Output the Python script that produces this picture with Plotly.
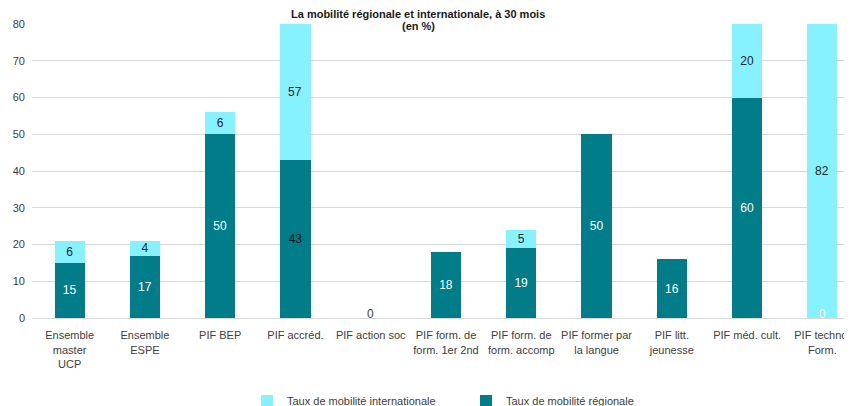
import plotly.graph_objects as go

categories = ["Ensemble<br>master<br>UCP", "Ensemble<br>ESPE", "PIF BEP", "PIF accréd.", "PIF action soc",
              "PIF form. de<br>form. 1er 2nd", "PIF form. de<br>form. accomp", "PIF former par<br>la langue",
              "PIF litt.<br>jeunesse", "PIF méd. cult.", "PIF techno.<br>Form."]
regional = [15, 17, 50, 43, 0, 18, 19, 50, 16, 60, 0]
international = [6, 4, 6, 57, None, None, 5, None, None, 20, 82]
regional_label_colors = ["white", "white", "white", "#1a1a1a", "#404040", "white", "white", "white", "white", "white", "white"]
yticks = [0, 10, 20, 30, 40, 50, 60, 70, 80]
title_lines = ["La mobilité régionale et internationale, à 30 mois", "(en %)"]
YMAX = 80

FONT = "Liberation Sans, Arial, sans-serif"
x = list(range(len(categories)))
# the page body adds an 8px offset; figure coordinates below compensate for it
OFF = 8
PLOT_TOP, PLOT_H, PLOT_L = 24 - OFF, 294, 32 - OFF
W, H = 852, 406

fig = go.Figure()
fig.add_trace(go.Bar(
    x=x, y=regional, name="Taux de mobilité régionale",
    marker=dict(color="#007D89", line=dict(width=0)),
    width=0.4, text=[("" if v == 0 else str(v)) for v in regional], textposition="inside",
    insidetextanchor="middle", constraintext="none", textangle=0,
    textfont=dict(family=FONT, size=12, color=regional_label_colors),
))
fig.add_trace(go.Bar(
    x=x, y=international, name="Taux de mobilité internationale",
    marker=dict(color="#86F1FF", line=dict(width=0)),
    width=0.4,
    text=[("" if (v is None or regional[i] + v > YMAX) else str(v)) for i, v in enumerate(international)],
    textposition="inside", insidetextanchor="middle", constraintext="none", textangle=0,
    textfont=dict(family=FONT, size=12, color="#262626"),
))

annotations = []
for i, v in enumerate(regional):
    if v == 0:
        annotations.append(dict(x=i, y=v, xref="x", yref="y", text=str(v), showarrow=False,
                                yanchor="bottom", yshift=-5,
                                font=dict(family=FONT, size=12, color=regional_label_colors[i])))
for i, v in enumerate(international):
    if v is not None and regional[i] + v > YMAX:
        annotations.append(dict(x=i, y=(regional[i] + YMAX) / 2, xref="x", yref="y", text=str(v),
                                showarrow=False, font=dict(family=FONT, size=12, color="#262626")))
for line, ypage in zip(title_lines, [14, 26]):
    yfig = ypage - OFF
    annotations.append(dict(x=(418 - OFF - PLOT_L) / (W - PLOT_L), y=1 + (PLOT_TOP - yfig) / PLOT_H,
                            xref="paper", yref="paper",
                            xanchor="center", yanchor="middle", text=f"<b>{line}</b>", showarrow=False,
                            font=dict(family=FONT, size=11, color="#1a1a1a")))

fig.update_layout(
    width=W, height=H,
    barmode="stack",
    plot_bgcolor="white", paper_bgcolor="white",
    margin=dict(l=PLOT_L, r=0, t=PLOT_TOP, b=H - PLOT_TOP - PLOT_H, autoexpand=False),
    font=dict(family=FONT, size=12, color="#404040"),
    xaxis=dict(tickmode="array", tickvals=x, ticktext=categories, range=[-0.5, 10.5],
               showgrid=False, showline=True, linecolor="#d9d9d9", linewidth=1, ticks="",
               tickangle=0, ticklabelstandoff=7, automargin=False,
               tickfont=dict(family=FONT, size=11, color="#404040"), fixedrange=True),
    yaxis=dict(range=[0, YMAX], tickvals=yticks, showgrid=True, gridcolor="#d9d9d9", gridwidth=1,
               zeroline=False, ticks="", automargin=False,
               tickfont=dict(family=FONT, size=11, color="#404040"), ticklabelstandoff=6),
    legend=dict(orientation="h", x=(266 - 19 - OFF - PLOT_L) / (W - PLOT_L), xanchor="left",
                y=-((401 - OFF) - (PLOT_TOP + PLOT_H)) / PLOT_H, yanchor="middle",
                traceorder="reversed", entrywidth=174, entrywidthmode="pixels",
                font=dict(family=FONT, size=11, color="#404040")),
    annotations=annotations,
    showlegend=True,
)

fig.write_html("out.html")
